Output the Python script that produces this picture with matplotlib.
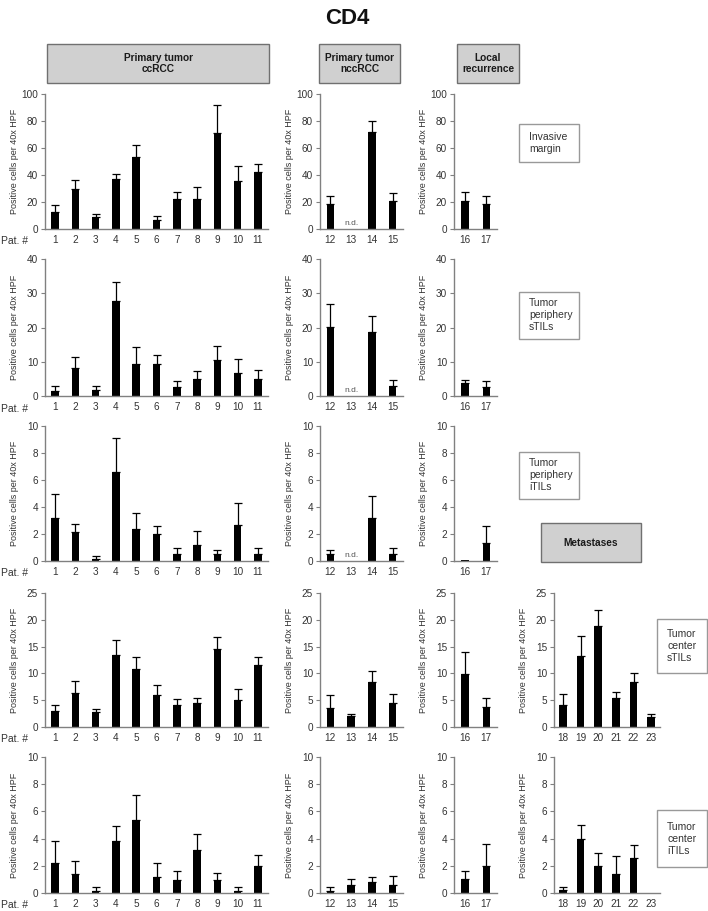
import numpy as np
import matplotlib
matplotlib.use("Agg")
import matplotlib.pyplot as plt
from matplotlib.patches import Rectangle

plt.rcParams['font.family'] = ['Liberation Sans', 'DejaVu Sans']

W, H = 708, 911

# ---------------- data ----------------
pat_cc = [1, 2, 3, 4, 5, 6, 7, 8, 9, 10, 11]
pat_ncc = [12, 13, 14, 15]
pat_lr = [16, 17]
pat_met = [18, 19, 20, 21, 22, 23]

# Invasive margin
im_cc = [12.8, 29.3, 8.9, 36.7, 53.0, 6.9, 21.9, 21.9, 70.9, 35.5, 42.4]
im_cc_err = [4.7, 6.9, 2.2, 4.4, 9.0, 3.0, 5.4, 8.9, 21.0, 11.5, 5.6]
im_ncc = [18.7, np.nan, 71.7, 20.7]
im_ncc_err = [5.9, np.nan, 8.3, 5.7]
im_lr = [20.7, 18.7]
im_lr_err = [6.6, 5.4]

# Tumor periphery sTILs
ps_cc = [1.6, 8.3, 1.8, 27.7, 9.2, 9.2, 2.5, 5.1, 10.4, 6.8, 5.1]
ps_cc_err = [1.3, 3.1, 1.1, 5.7, 5.1, 2.9, 1.9, 2.3, 4.2, 3.9, 2.6]
ps_ncc = [20.2, np.nan, 18.7, 3.0]
ps_ncc_err = [6.6, np.nan, 4.6, 1.8]
ps_lr = [3.7, 2.7]
ps_lr_err = [1.1, 1.7]

# Tumor periphery iTILs
pi_cc = [3.15, 2.17, 0.15, 6.58, 2.39, 2.0, 0.54, 1.18, 0.54, 2.64, 0.54]
pi_cc_err = [1.8, 0.59, 0.22, 2.52, 1.18, 0.56, 0.45, 1.01, 0.3, 1.69, 0.45]
pi_ncc = [0.54, np.nan, 3.18, 0.54]
pi_ncc_err = [0.3, np.nan, 1.62, 0.45]
pi_lr = [0.05, 1.35]
pi_lr_err = [np.nan, 1.21]

# Tumor center sTILs
cs_cc = [2.9, 6.3, 2.8, 13.5, 10.9, 6.0, 4.1, 4.4, 14.6, 5.0, 11.5]
cs_cc_err = [1.2, 2.3, 0.6, 2.7, 2.1, 1.9, 1.1, 1.0, 2.2, 2.1, 1.5]
cs_ncc = [3.6, 2.0, 8.4, 4.4]
cs_ncc_err = [2.4, 0.5, 2.0, 1.7]
cs_lr = [9.9, 3.7]
cs_lr_err = [4.0, 1.8]
cs_met = [4.1, 13.3, 18.8, 5.4, 8.4, 1.8]
cs_met_err = [2.0, 3.7, 3.0, 1.2, 1.6, 0.7]

# Tumor center iTILs
ci_cc = [2.2, 1.42, 0.17, 3.8, 5.4, 1.2, 0.98, 3.19, 0.98, 0.17, 1.96]
ci_cc_err = [1.6, 0.91, 0.25, 1.1, 1.8, 0.98, 0.66, 1.15, 0.47, 0.25, 0.86]
ci_ncc = [0.17, 0.59, 0.78, 0.59]
ci_ncc_err = [0.25, 0.44, 0.42, 0.64]
ci_lr = [1.0, 1.98]
ci_lr_err = [0.6, 1.6]
ci_met = [0.2, 3.97, 1.98, 1.4, 2.6, 0.0]
ci_met_err = [0.22, 1.03, 0.96, 1.32, 0.9, np.nan]

row_ymax = [100, 40, 10, 25, 10]
row_ystep = [20, 10, 2, 5, 2]
row_labels = ["Invasive\nmargin", "Tumor\nperiphery\nsTILs", "Tumor\nperiphery\niTILs",
              "Tumor\ncenter\nsTILs", "Tumor\ncenter\niTILs"]
group_titles = ["Primary tumor\nccRCC", "Primary tumor\nnccRCC", "Local\nrecurrence", "Metastases"]
ylabel_text = "Positive cells per 40x HPF"

rows = [
    [(pat_cc, im_cc, im_cc_err), (pat_ncc, im_ncc, im_ncc_err), (pat_lr, im_lr, im_lr_err)],
    [(pat_cc, ps_cc, ps_cc_err), (pat_ncc, ps_ncc, ps_ncc_err), (pat_lr, ps_lr, ps_lr_err)],
    [(pat_cc, pi_cc, pi_cc_err), (pat_ncc, pi_ncc, pi_ncc_err), (pat_lr, pi_lr, pi_lr_err)],
    [(pat_cc, cs_cc, cs_cc_err), (pat_ncc, cs_ncc, cs_ncc_err), (pat_lr, cs_lr, cs_lr_err),
     (pat_met, cs_met, cs_met_err)],
    [(pat_cc, ci_cc, ci_cc_err), (pat_ncc, ci_ncc, ci_ncc_err), (pat_lr, ci_lr, ci_lr_err),
     (pat_met, ci_met, ci_met_err)],
]

# ---------------- layout (pixels) ----------------
row_px = [(94, 229), (259, 396), (426, 561), (593, 727), (757, 893)]
col_px = [(45, 268), (320, 403), (454, 497), (554, 660)]

AX_COL = "#808080"
TXT_COL = "#333333"


def fig_rect(x0, y0, x1, y1):
    return [x0 / W, 1 - y1 / H, (x1 - x0) / W, (y1 - y0) / H]


fig = plt.figure(figsize=(W / 100, H / 100), dpi=100)

fig.text(347 / W, 1 - 19 / H, "CD4", ha="center", va="center",
         fontsize=16, fontweight="bold", color="#111111")


def box(x0, y0, x1, y1, fc, ec):
    r = Rectangle((x0 / W, 1 - y1 / H), (x1 - x0) / W, (y1 - y0) / H,
                  transform=fig.transFigure, facecolor=fc, edgecolor=ec, lw=1.0)
    fig.patches.append(r)


# group header boxes
header_boxes = [(47, 44, 269, 83), (319, 44, 400, 83), (457, 44, 519, 83), (541, 523, 641, 562)]
for (x0, y0, x1, y1), t in zip(header_boxes, group_titles):
    box(x0, y0, x1, y1, "#d0d0d0", "#707070")
    fig.text((x0 + x1) / 2 / W, 1 - (y0 + y1) / 2 / H, t, ha="center", va="center",
             fontsize=7.3, fontweight="bold", color="#1a1a1a", linespacing=1.2)

# row label boxes
label_boxes = [(519, 124, 579, 162), (519, 292, 579, 339), (519, 452, 579, 499),
               (657, 619, 707, 673), (657, 810, 707, 867)]
for (x0, y0, x1, y1), t in zip(label_boxes, row_labels):
    box(x0, y0, x1, y1, "white", "#999999")
    fig.text((x0 + 10) / W, 1 - (y0 + y1) / 2 / H, t, ha="left", va="center",
             fontsize=7.5, color=TXT_COL, linespacing=1.25)

bar_w_px = 7.5

for ri, groups in enumerate(rows):
    yt, yb = row_px[ri]
    for ci, (pats, vals, errs) in enumerate(groups):
        xl, xr = col_px[ci]
        ax = fig.add_axes(fig_rect(xl, yt, xr, yb))
        n = len(pats)
        slot_px = (xr - xl) / n
        bw = bar_w_px / slot_px
        x = np.array(pats, dtype=float)
        v = np.array(vals, dtype=float)
        e = np.array(errs, dtype=float)
        ax.bar(x, np.nan_to_num(v), width=bw, color="black", edgecolor="none", zorder=2)
        ok = ~np.isnan(e)
        yerr = np.vstack([np.zeros(ok.sum()), e[ok]])
        ax.errorbar(x[ok], v[ok], yerr=yerr, fmt="none", ecolor="black",
                    elinewidth=0.9, capsize=3.2, capthick=0.9, zorder=1)
        for xi, vi in zip(x, v):
            if np.isnan(vi):
                ax.text(xi, row_ymax[ri] * 0.012, "n.d.", ha="center", va="bottom",
                        fontsize=6, color="#555555")
        ax.set_xlim(pats[0] - 0.5, pats[-1] + 0.5)
        ax.set_ylim(0, row_ymax[ri])
        ax.set_yticks(np.arange(0, row_ymax[ri] + 0.1, row_ystep[ri]))
        ax.set_xticks(pats)
        ax.set_xticklabels([str(p) for p in pats])
        for s in ["top", "right"]:
            ax.spines[s].set_visible(False)
        for s in ["left", "bottom"]:
            ax.spines[s].set_color(AX_COL)
            ax.spines[s].set_linewidth(1.0)
        ax.tick_params(axis="y", direction="out", length=3, width=0.8, color=AX_COL,
                       labelsize=7.2, labelcolor=TXT_COL, pad=2)
        ax.tick_params(axis="x", length=0, labelsize=7.2, labelcolor=TXT_COL, pad=4.5)
        ax.set_ylabel(ylabel_text, fontsize=6.5, color=TXT_COL)
        ax.yaxis.set_label_coords(-26 / (xr - xl), 0.5)
        ax.patch.set_alpha(0)
        if ci == 0:
            ax.text(-44 / (xr - xl), -12.5 / (yb - yt), "Pat. #", transform=ax.transAxes,
                    ha="left", va="center", fontsize=7.5, color=TXT_COL)

fig.savefig("out.png", dpi=100)
